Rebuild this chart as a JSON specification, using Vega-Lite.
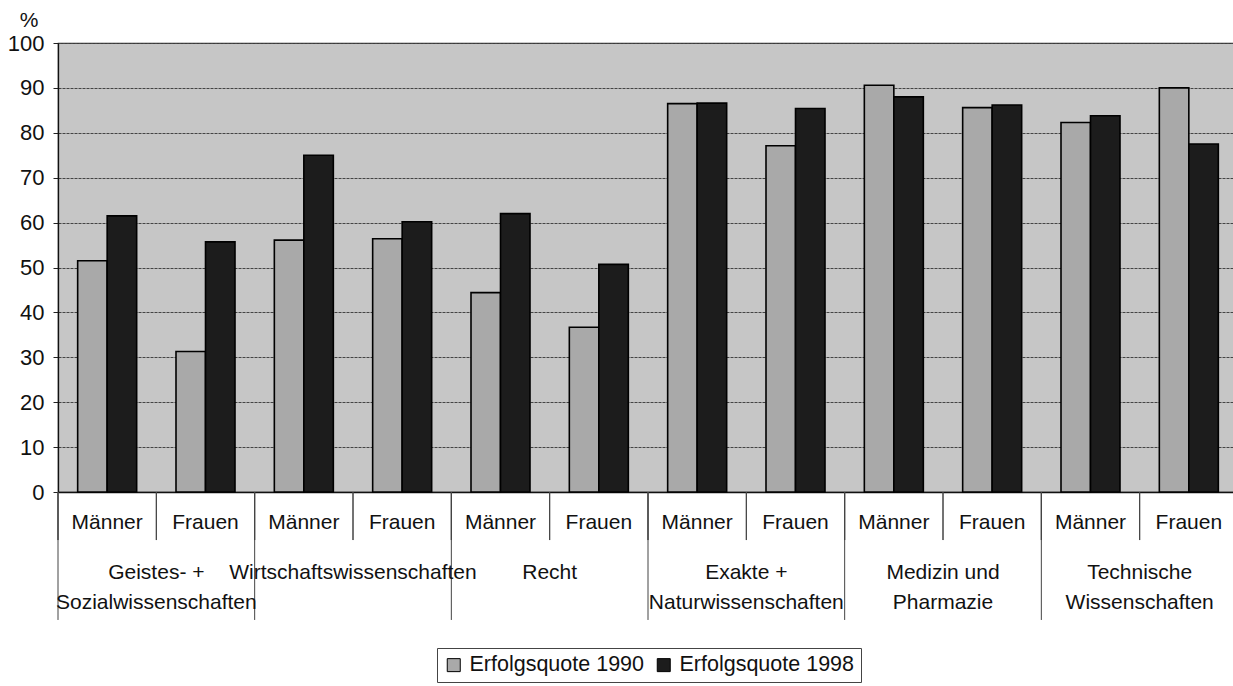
{
  "$schema": "https://vega.github.io/schema/vega-lite/v6.json",
  "width": 1180,
  "height": 449,
  "autosize": {"type": "none"},
  "padding": {"left": 58, "top": 43, "right": 0, "bottom": 194},
  "background": "white",
  "config": {
    "font": "Liberation Sans",
    "view": {"fill": "#c6c6c6", "stroke": "#333333", "strokeWidth": 1.2}
  },
  "datasets": {
    "bars": [
      {"key": "GS-M", "year": "Erfolgsquote 1990", "value": 51.5},
      {"key": "GS-M", "year": "Erfolgsquote 1998", "value": 61.5},
      {"key": "GS-F", "year": "Erfolgsquote 1990", "value": 31.3},
      {"key": "GS-F", "year": "Erfolgsquote 1998", "value": 55.7},
      {"key": "WW-M", "year": "Erfolgsquote 1990", "value": 56.1},
      {"key": "WW-M", "year": "Erfolgsquote 1998", "value": 75.0},
      {"key": "WW-F", "year": "Erfolgsquote 1990", "value": 56.4},
      {"key": "WW-F", "year": "Erfolgsquote 1998", "value": 60.2},
      {"key": "RE-M", "year": "Erfolgsquote 1990", "value": 44.4},
      {"key": "RE-M", "year": "Erfolgsquote 1998", "value": 62.0},
      {"key": "RE-F", "year": "Erfolgsquote 1990", "value": 36.7},
      {"key": "RE-F", "year": "Erfolgsquote 1998", "value": 50.7},
      {"key": "EX-M", "year": "Erfolgsquote 1990", "value": 86.5},
      {"key": "EX-M", "year": "Erfolgsquote 1998", "value": 86.6},
      {"key": "EX-F", "year": "Erfolgsquote 1990", "value": 77.1},
      {"key": "EX-F", "year": "Erfolgsquote 1998", "value": 85.4},
      {"key": "ME-M", "year": "Erfolgsquote 1990", "value": 90.6},
      {"key": "ME-M", "year": "Erfolgsquote 1998", "value": 88.0},
      {"key": "ME-F", "year": "Erfolgsquote 1990", "value": 85.6},
      {"key": "ME-F", "year": "Erfolgsquote 1998", "value": 86.2},
      {"key": "TE-M", "year": "Erfolgsquote 1990", "value": 82.3},
      {"key": "TE-M", "year": "Erfolgsquote 1998", "value": 83.8},
      {"key": "TE-F", "year": "Erfolgsquote 1990", "value": 90.0},
      {"key": "TE-F", "year": "Erfolgsquote 1998", "value": 77.5}
    ],
    "faculties": [
      {"key": "GS-M", "label": "Geistes- +\nSozialwissenschaften"},
      {"key": "WW-M", "label": "Wirtschaftswissenschaften"},
      {"key": "RE-M", "label": "Recht"},
      {"key": "EX-M", "label": "Exakte +\nNaturwissenschaften"},
      {"key": "ME-M", "label": "Medizin und\nPharmazie"},
      {"key": "TE-M", "label": "Technische\nWissenschaften"}
    ]
  },
  "encoding": {
    "x": {
      "field": "key",
      "type": "nominal",
      "sort": ["GS-M", "GS-F", "WW-M", "WW-F", "RE-M", "RE-F", "EX-M", "EX-F", "ME-M", "ME-F", "TE-M", "TE-F"],
      "scale": {"paddingInner": 0, "paddingOuter": 0},
      "axis": {
        "orient": "bottom",
        "title": null,
        "labelExpr": "indexof(datum.value, '-M') >= 0 ? 'Männer' : 'Frauen'",
        "labelAngle": 0,
        "labelFontSize": 21,
        "labelFont": "Liberation Sans",
        "labelColor": "#111",
        "labelBaseline": "top",
        "labelPadding": 19,
        "ticks": false,
        "domainColor": "#111",
        "domainWidth": 1.3,
        "grid": false
      }
    }
  },
  "layer": [
    {
      "data": {"name": "bars"},
      "transform": [{"filter": "datum.year == 'Erfolgsquote 1990'"}],
      "mark": {"type": "bar", "stroke": "#000", "strokeWidth": 1.6, "width": {"band": 0.3}, "xOffset": -14.75},
      "encoding": {
        "y": {
          "field": "value",
          "type": "quantitative",
          "scale": {"domain": [0, 100], "nice": false},
          "axis": {
            "values": [0, 10, 20, 30, 40, 50, 60, 70, 80, 90, 100],
            "title": "%",
            "titleAngle": 0,
            "titleX": -29.5,
            "titleY": -23,
            "titleAlign": "center",
            "titleBaseline": "middle",
            "titleFontSize": 21,
            "titleFontWeight": "normal",
            "titleFont": "Liberation Sans",
            "titleColor": "#111",
            "labelFontSize": 22,
            "labelFont": "Liberation Sans",
            "labelColor": "#111",
            "labelPadding": 9,
            "tickSize": 5,
            "tickColor": "#222",
            "domainColor": "#111",
            "domainWidth": 1.3,
            "grid": true,
            "gridColor": "#444444",
            "gridWidth": 1.1,
            "gridDash": [3, 1]
          }
        },
        "color": {
          "field": "year",
          "type": "nominal",
          "scale": {"domain": ["Erfolgsquote 1990", "Erfolgsquote 1998"], "range": ["#a9a9a9", "#1c1c1c"]},
          "legend": {
            "title": null,
            "orient": "none",
            "legendX": 379,
            "legendY": 605,
            "direction": "horizontal",
            "fillColor": "white",
            "strokeColor": "#444",
            "padding": 6,
            "symbolType": "square",
            "symbolSize": 169,
            "symbolStrokeColor": "#000",
            "symbolStrokeWidth": 1,
            "labelOffset": 5,
            "columnPadding": 8,
            "labelFontSize": 21.5,
            "labelFont": "Liberation Sans",
            "labelColor": "#111",
            "labelLimit": 300
          }
        }
      }
    },
    {
      "data": {"name": "bars"},
      "transform": [{"filter": "datum.year == 'Erfolgsquote 1998'"}],
      "mark": {"type": "bar", "stroke": "#000", "strokeWidth": 1.6, "width": {"band": 0.3}, "xOffset": 14.75},
      "encoding": {
        "y": {"field": "value", "type": "quantitative"},
        "color": {"field": "year", "type": "nominal"}
      }
    },
    {
      "data": {"name": "bars"},
      "mark": {"type": "rule", "color": "#444", "strokeWidth": 1},
      "encoding": {
        "x": {"field": "key", "type": "nominal", "bandPosition": 0, "sort": ["GS-M", "GS-F", "WW-M", "WW-F", "RE-M", "RE-F", "EX-M", "EX-F", "ME-M", "ME-F", "TE-M", "TE-F"]},
        "y": {"datum": 0},
        "y2": {"datum": -10.7}
      }
    },
    {
      "data": {"name": "faculties"},
      "mark": {"type": "rule", "color": "#444", "strokeWidth": 1},
      "encoding": {
        "x": {"field": "key", "type": "nominal", "bandPosition": 0, "sort": ["GS-M", "GS-F", "WW-M", "WW-F", "RE-M", "RE-F", "EX-M", "EX-F", "ME-M", "ME-F", "TE-M", "TE-F"]},
        "y": {"datum": 0},
        "y2": {"datum": -28.5}
      }
    },
    {
      "data": {"name": "faculties"},
      "mark": {"type": "text", "align": "center", "baseline": "top", "fontSize": 21, "lineBreak": "\n", "lineHeight": 30, "dy": 70, "color": "#111", "font": "Liberation Sans"},
      "encoding": {
        "x": {"field": "key", "type": "nominal", "bandPosition": 1, "sort": ["GS-M", "GS-F", "WW-M", "WW-F", "RE-M", "RE-F", "EX-M", "EX-F", "ME-M", "ME-F", "TE-M", "TE-F"]},
        "y": {"datum": 0},
        "text": {"field": "label"}
      }
    }
  ]
}
